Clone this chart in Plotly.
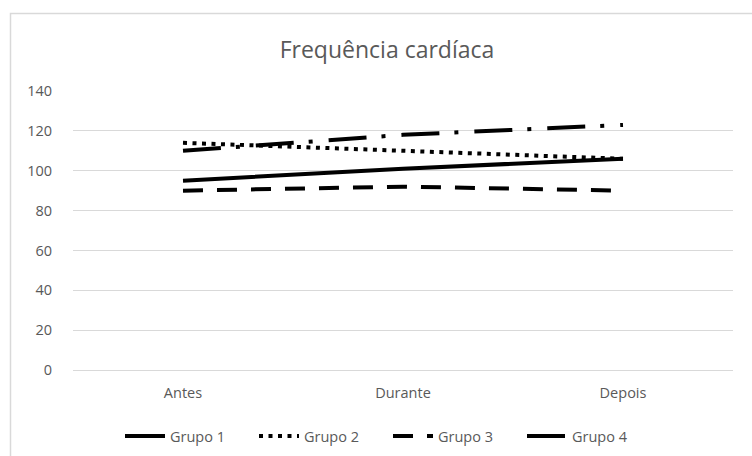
import plotly.graph_objects as go

# Heart-rate measurements per group at three moments
categorias = ["Antes", "Durante", "Depois"]
grupo_1 = [95, 101, 106]
grupo_2 = [114, 110, 106]
grupo_3 = [90, 92, 90]
grupo_4 = [110, 118, 123]

series = [
    ("Grupo 1", grupo_1, "solid"),
    ("Grupo 2", grupo_2, "4px,5.5px"),
    ("Grupo 3", grupo_3, "20px,14px"),
    ("Grupo 4", grupo_4, "38px,15px,4px,16px"),
]

W, H = 752, 456
L, R, T, B = 73, 19, 91, 86
plot_w = W - L - R
plot_h = H - T - B

fig = go.Figure()
for nome, valores, dash in series:
    fig.add_trace(go.Scatter(
        x=categorias, y=valores, name=nome, mode="lines",
        line=dict(color="black", width=4, dash=dash),
    ))

grey_text = "#595959"
fig.update_layout(
    width=W, height=H,
    margin=dict(l=L, r=R, t=T, b=B, pad=0, autoexpand=False),
    paper_bgcolor="white", plot_bgcolor="white",
    font=dict(family="Open Sans, Noto Sans, sans-serif", size=14.5, color=grey_text),
    title=dict(
        text="Frequência cardíaca", x=387 / W, xanchor="center",
        y=1 - 50 / H, yanchor="middle",
        font=dict(size=23, color=grey_text),
    ),
    xaxis=dict(
        type="category", range=[-0.5, 2.5], showgrid=False,
        showline=True, linecolor="#d9d9d9", linewidth=1,
        ticks="", tickfont=dict(size=14.5, color=grey_text), ticklabelstandoff=10,
    ),
    yaxis=dict(
        range=[0, 140], dtick=20, showgrid=True, gridcolor="#d9d9d9", gridwidth=1,
        zeroline=True, zerolinecolor="#d9d9d9", zerolinewidth=1,
        showline=False, ticks="", tickfont=dict(size=14.5, color=grey_text),
        ticklabelstandoff=20,
    ),
    legend=dict(
        orientation="h", x=(120 - L) / plot_w, xanchor="left",
        y=-(436 - (T + plot_h)) / plot_h, yanchor="middle",
        font=dict(size=14.5, color=grey_text), itemwidth=40,
        entrywidth=79, entrywidthmode="pixels",
        bgcolor="rgba(0,0,0,0)",
    ),
    shapes=[dict(
        type="rect", xref="paper", yref="paper",
        x0=(10.5 - L) / plot_w, x1=(W + 10 - L) / plot_w,
        y0=-(H + 10 - (T + plot_h)) / plot_h, y1=((T + plot_h) - 13.5) / plot_h,
        line=dict(color="#d9d9d9", width=1.5), fillcolor="rgba(0,0,0,0)",
        layer="below",
    )],
)

fig.write_html("out.html")
